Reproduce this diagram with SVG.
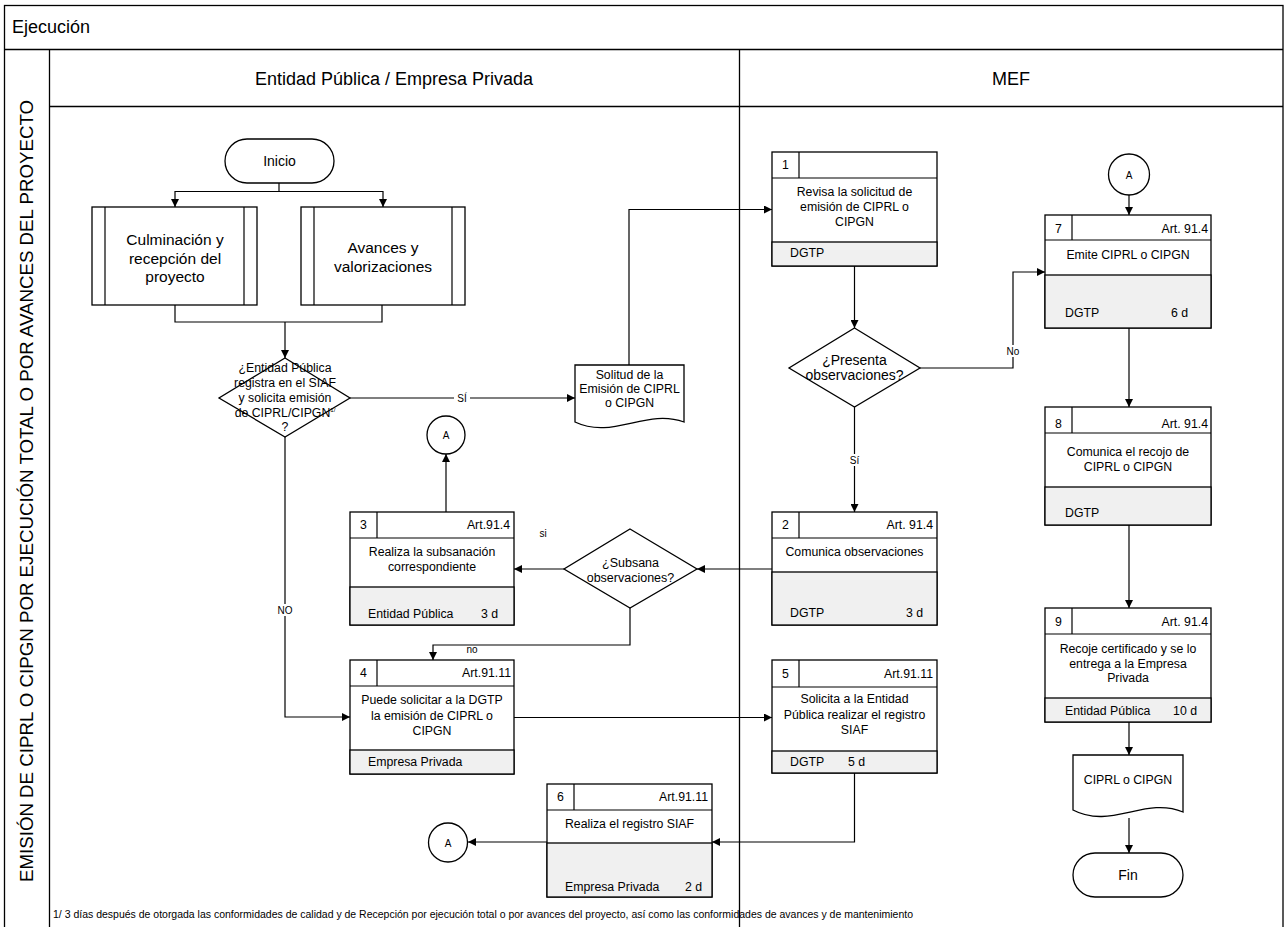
<svg xmlns="http://www.w3.org/2000/svg" width="1285" height="927" viewBox="0 0 1285 927">
<style>
.frame{fill:none;stroke:#000;stroke-width:1.3}
.ln{fill:none;stroke:#000;stroke-width:1.2}
.box{fill:#fff;stroke:#000;stroke-width:1.3}
.ft{fill:#f0f0f0;stroke:#000;stroke-width:1.3}
text{font-family:"Liberation Sans",Arial,sans-serif;fill:#000}
.t{font-size:12.3px}
.c{text-anchor:middle}
.r{text-anchor:end}
.lb{font-size:10px}
.bg{fill:#fff;stroke:none}
</style>
<defs>
<marker id="ar" viewBox="0 0 8 8" refX="8" refY="4" markerWidth="8" markerHeight="8" markerUnits="userSpaceOnUse" orient="auto">
<path d="M0,0 L8,4 L0,8 z" fill="#000"/>
</marker>
</defs>
<rect width="1285" height="927" fill="#fff"/>
<g id="frame">
<rect class="frame" x="4.5" y="5.5" width="1278.5" height="930"/>
<line class="frame" x1="4.5" y1="49.5" x2="1283" y2="49.5"/>
<line class="frame" x1="49.5" y1="49.5" x2="49.5" y2="930"/>
<line class="frame" x1="49.5" y1="106.5" x2="1283" y2="106.5"/>
<line class="frame" x1="739.5" y1="49.5" x2="739.5" y2="930"/>
<text x="12" y="33" font-size="18">Ejecución</text>
<text x="394" y="85" font-size="18" class="c">Entidad Pública / Empresa Privada</text>
<text x="1011" y="85" font-size="18" class="c">MEF</text>
<text transform="translate(33,491) rotate(-90)" font-size="18" class="c" textLength="782" lengthAdjust="spacingAndGlyphs">EMISIÓN DE CIPRL O CIPGN POR EJECUCIÓN TOTAL O POR AVANCES DEL PROYECTO</text>
<text x="53" y="918" font-size="10" textLength="860" lengthAdjust="spacingAndGlyphs">1/ 3 días después de otorgada las conformidades de calidad y de Recepción por ejecución total o por avances del proyecto, así como las conformidades de avances y de mantenimiento</text>
</g>
<g id="connectors">
<path class="ln" d="M279,183 V191.5"/>
<path class="ln" d="M279,191.5 H175 V207" marker-end="url(#ar)"/>
<path class="ln" d="M279,191.5 H383 V207" marker-end="url(#ar)"/>
<path class="ln" d="M175,305 V322 H382 V305"/>
<path class="ln" d="M285,322 V358" marker-end="url(#ar)"/>
<path class="ln" d="M350,398 H575" marker-end="url(#ar)"/>
<path class="ln" d="M629,365 V209.5 H772" marker-end="url(#ar)"/>
<path class="ln" d="M854.5,266 V328" marker-end="url(#ar)"/>
<path class="ln" d="M920,368 H1013 V272 H1045" marker-end="url(#ar)"/>
<path class="ln" d="M854.5,407 V512" marker-end="url(#ar)"/>
<path class="ln" d="M772,569 H697" marker-end="url(#ar)"/>
<path class="ln" d="M564,569 H514" marker-end="url(#ar)"/>
<path class="ln" d="M446,512 V454" marker-end="url(#ar)"/>
<path class="ln" d="M630,608 V645 H433 V660" marker-end="url(#ar)"/>
<path class="ln" d="M285,437 V717 H350" marker-end="url(#ar)"/>
<path class="ln" d="M514,717.5 H772" marker-end="url(#ar)"/>
<path class="ln" d="M854.5,773 V842 H712" marker-end="url(#ar)"/>
<path class="ln" d="M547,842 H468" marker-end="url(#ar)"/>
<path class="ln" d="M1129,195 V215" marker-end="url(#ar)"/>
<path class="ln" d="M1129,328 V407" marker-end="url(#ar)"/>
<path class="ln" d="M1129,525 V608" marker-end="url(#ar)"/>
<path class="ln" d="M1129,722 V755" marker-end="url(#ar)"/>
<path class="ln" d="M1129,818 V853" marker-end="url(#ar)"/>
<rect class="bg" x="454" y="392" width="16" height="12"/>
<text x="462" y="402" class="lb c">SÍ</text>
<rect class="bg" x="1003" y="345" width="20" height="12"/>
<text x="1013" y="355" class="lb c">No</text>
<rect class="bg" x="846" y="454" width="16" height="12"/>
<text x="854.5" y="464" class="lb c">Sí</text>
<rect class="bg" x="275" y="604" width="20" height="12"/>
<text x="285" y="614" class="lb c">NO</text>
<text x="543" y="537" class="lb c">si</text>
<text x="472" y="653" class="lb c">no</text>
</g>
<g id="inicio">
<rect class="box" x="225" y="139" width="109" height="44" rx="22"/>
<text x="279.5" y="166" font-size="14" class="c">Inicio</text>
</g>
<g id="culminacion">
<rect class="box" x="92" y="207" width="165" height="98"/>
<line class="ln" x1="105" y1="207" x2="105" y2="305"/>
<line class="ln" x1="244" y1="207" x2="244" y2="305"/>
<text x="175" y="245" font-size="15.5" class="c">Culminación y</text>
<text x="175" y="263.5" font-size="15.5" class="c">recepción del</text>
<text x="175" y="282" font-size="15.5" class="c">proyecto</text>
</g>
<g id="avances">
<rect class="box" x="301" y="207" width="164" height="98"/>
<line class="ln" x1="314" y1="207" x2="314" y2="305"/>
<line class="ln" x1="452" y1="207" x2="452" y2="305"/>
<text x="383" y="252.5" font-size="15.5" class="c">Avances y</text>
<text x="383" y="271.5" font-size="15.5" class="c">valorizaciones</text>
</g>
<g id="decision1">
<polygon class="box" points="285,358 350,398 285,437 219,398"/>
<text x="285" y="372" class="t c">¿Entidad Pública</text>
<text x="285" y="387" class="t c">registra en el SIAF</text>
<text x="285" y="402" class="t c">y solicita emisión</text>
<text x="285" y="417" class="t c">de CIPRL/CIPGN<tspan font-size="6" dy="-5">1/</tspan></text>
<text x="285" y="431" class="t c">?</text>
</g>
<g id="solicitud">
<path class="box" d="M575,365 H684 V422 C646,408 613,440 575,422 Z"/>
<text x="629.5" y="379" class="t c">Solitud de la</text>
<text x="629.5" y="393" class="t c">Emisión de CIPRL</text>
<text x="629.5" y="407" class="t c">o CIPGN</text>
</g>
<g id="A1">
<circle class="box" cx="446" cy="435" r="19"/>
<text x="446" y="439" font-size="10" class="c">A</text>
</g>
<g id="step1">
<rect class="box" x="772" y="152" width="165" height="114"/>
<rect class="ft" x="772" y="242" width="165" height="24"/>
<line class="ln" x1="772" y1="178" x2="937" y2="178"/>
<line class="ln" x1="799" y1="152" x2="799" y2="178"/>
<text x="785.5" y="169" class="t c">1</text>
<text x="854.5" y="196" class="t c">Revisa la solicitud de</text>
<text x="854.5" y="211" class="t c">emisión de CIPRL o</text>
<text x="854.5" y="226" class="t c">CIPGN</text>
<text x="790" y="257" class="t">DGTP</text>
</g>
<g id="decision2">
<polygon class="box" points="854.5,328 920,368 854.5,407 789,368"/>
<text x="854.5" y="365" font-size="14" class="c">¿Presenta</text>
<text x="854.5" y="380" font-size="14" class="c">observaciones?</text>
</g>
<g id="step2">
<rect class="box" x="772" y="512" width="165" height="113"/>
<rect class="ft" x="772" y="572" width="165" height="53"/>
<line class="ln" x1="772" y1="538" x2="937" y2="538"/>
<line class="ln" x1="799" y1="512" x2="799" y2="538"/>
<text x="785.5" y="529" class="t c">2</text>
<text x="933" y="529" class="t r">Art. 91.4</text>
<text x="854.5" y="556" class="t c">Comunica observaciones</text>
<text x="790" y="617" class="t">DGTP</text>
<text x="923" y="617" class="t r">3 d</text>
</g>
<g id="decision3">
<polygon class="box" points="630,529 697,569 630,608 564,569"/>
<text x="630.5" y="567" font-size="12.5" class="c">¿Subsana</text>
<text x="630.5" y="582" font-size="12.5" class="c">observaciones?</text>
</g>
<g id="step3">
<rect class="box" x="350" y="512" width="164" height="113"/>
<rect class="ft" x="350" y="587" width="164" height="38"/>
<line class="ln" x1="350" y1="538" x2="514" y2="538"/>
<line class="ln" x1="377" y1="512" x2="377" y2="538"/>
<text x="363.5" y="529" class="t c">3</text>
<text x="510" y="529" class="t r">Art.91.4</text>
<text x="432" y="556" class="t c">Realiza la subsanación</text>
<text x="432" y="571" class="t c">correspondiente</text>
<text x="368" y="618" class="t">Entidad Pública</text>
<text x="498" y="618" class="t r">3 d</text>
</g>
<g id="step4">
<rect class="box" x="350" y="660" width="164" height="114"/>
<rect class="ft" x="350" y="750" width="164" height="24"/>
<line class="ln" x1="350" y1="686" x2="514" y2="686"/>
<line class="ln" x1="377" y1="660" x2="377" y2="686"/>
<text x="363.5" y="677" class="t c">4</text>
<text x="511" y="677" class="t r">Art.91.11</text>
<text x="432" y="704" class="t c">Puede solicitar a la DGTP</text>
<text x="432" y="720" class="t c">la emisión de CIPRL o</text>
<text x="432" y="735" class="t c">CIPGN</text>
<text x="368" y="766" class="t">Empresa Privada</text>
</g>
<g id="step5">
<rect class="box" x="772" y="660" width="165" height="113"/>
<rect class="ft" x="772" y="751" width="165" height="22"/>
<line class="ln" x1="772" y1="687" x2="937" y2="687"/>
<line class="ln" x1="799" y1="660" x2="799" y2="687"/>
<text x="785.5" y="678" class="t c">5</text>
<text x="933" y="678" class="t r">Art.91.11</text>
<text x="854.5" y="703" class="t c">Solicita a la Entidad</text>
<text x="854.5" y="719" class="t c">Pública realizar el registro</text>
<text x="854.5" y="734" class="t c">SIAF</text>
<text x="790" y="766" class="t">DGTP</text>
<text x="848" y="766" class="t">5 d</text>
</g>
<g id="step6">
<rect class="box" x="547" y="784" width="165" height="113"/>
<rect class="ft" x="547" y="843" width="165" height="54"/>
<line class="ln" x1="547" y1="810" x2="712" y2="810"/>
<line class="ln" x1="574" y1="784" x2="574" y2="810"/>
<text x="560.5" y="801" class="t c">6</text>
<text x="708" y="801" class="t r">Art.91.11</text>
<text x="629.5" y="828" class="t c">Realiza el registro SIAF</text>
<text x="565" y="891" class="t">Empresa Privada</text>
<text x="702" y="891" class="t r">2 d</text>
</g>
<g id="A2">
<circle class="box" cx="448" cy="842.5" r="19.5"/>
<text x="448" y="846.5" font-size="10" class="c">A</text>
</g>
<g id="A3">
<circle class="box" cx="1129" cy="174.5" r="20.5"/>
<text x="1129" y="178.5" font-size="10" class="c">A</text>
</g>
<g id="step7">
<rect class="box" x="1045" y="215" width="166" height="113"/>
<rect class="ft" x="1045" y="275" width="166" height="53"/>
<line class="ln" x1="1045" y1="240" x2="1211" y2="240"/>
<line class="ln" x1="1072" y1="215" x2="1072" y2="240"/>
<text x="1058.5" y="233" class="t c">7</text>
<text x="1208" y="233" class="t r">Art. 91.4</text>
<text x="1128" y="259" class="t c">Emite CIPRL o CIPGN</text>
<text x="1065" y="317" class="t">DGTP</text>
<text x="1188" y="317" class="t r">6 d</text>
</g>
<g id="step8">
<rect class="box" x="1045" y="407" width="166" height="118"/>
<rect class="ft" x="1045" y="487" width="166" height="38"/>
<line class="ln" x1="1045" y1="433" x2="1211" y2="433"/>
<line class="ln" x1="1072" y1="407" x2="1072" y2="433"/>
<text x="1058.5" y="428" class="t c">8</text>
<text x="1208" y="428" class="t r">Art. 91.4</text>
<text x="1128" y="456" class="t c">Comunica el recojo de</text>
<text x="1128" y="471" class="t c">CIPRL o CIPGN</text>
<text x="1065" y="517" class="t">DGTP</text>
</g>
<g id="step9">
<rect class="box" x="1045" y="608" width="166" height="114"/>
<rect class="ft" x="1045" y="698" width="166" height="24"/>
<line class="ln" x1="1045" y1="634" x2="1211" y2="634"/>
<line class="ln" x1="1072" y1="608" x2="1072" y2="634"/>
<text x="1058.5" y="626" class="t c">9</text>
<text x="1208" y="626" class="t r">Art. 91.4</text>
<text x="1128" y="653" class="t c">Recoje certificado y se lo</text>
<text x="1128" y="668" class="t c">entrega a la Empresa</text>
<text x="1128" y="682" class="t c">Privada</text>
<text x="1065" y="715" class="t">Entidad Pública</text>
<text x="1197" y="715" class="t r">10 d</text>
</g>
<g id="documento">
<path class="box" d="M1073,755 H1183 V812 C1145,796 1111,830 1073,810 Z"/>
<text x="1128" y="784" class="t c">CIPRL o CIPGN</text>
</g>
<g id="fin">
<rect class="box" x="1073" y="853" width="110" height="44" rx="22"/>
<text x="1128" y="880" font-size="14" class="c">Fin</text>
</g>
</svg>
